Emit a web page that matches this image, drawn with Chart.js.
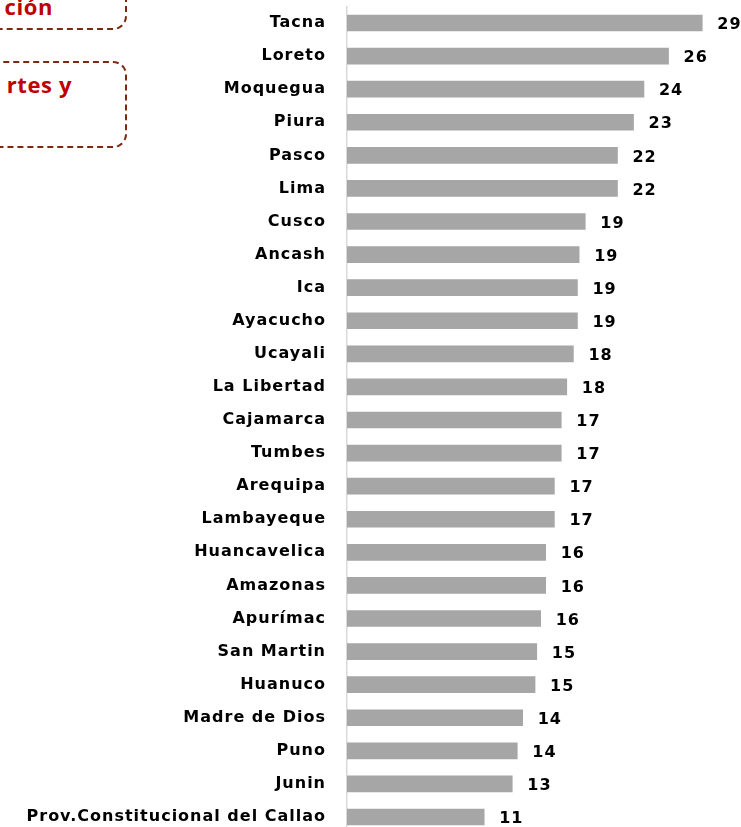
<!DOCTYPE html>
<html>
<head>
<meta charset="utf-8">
<script src="https://cdn.jsdelivr.net/npm/chart.js@4.4.1/dist/chart.umd.min.js"></script>
<style>
  html, body { margin: 0; padding: 0; background: #fff; overflow: hidden; }
  #wrap { position: relative; width: 741px; height: 827px; overflow: hidden; }
  #chartBox { position: absolute; left: 0; top: 0; width: 741px; height: 835px; }
  .note {
    position: absolute;
    border: 2.5px dashed #7b2a12;
    border-radius: 14px;
    color: #c00000;
    font-family: "Open Sans", sans-serif;
    font-weight: 700;
    font-size: 22px;
    letter-spacing: 0.6px;
    white-space: nowrap;
    box-sizing: border-box;
  }
</style>
</head>
<body>
<div id="wrap">
  <div class="note" style="left:-200px; top:-40px; width:327px; height:70px;">
    <span style="position:absolute; right:72px; top:29px;">ción</span>
  </div>
  <div class="note" style="left:-200px; top:61px; width:327px; height:87px;">
    <span style="position:absolute; right:53px; top:6px;">rtes y</span>
  </div>
  <div id="chartBox"><canvas id="chart"></canvas></div>
</div>
<script>
const regions = [
  "Tacna", "Loreto", "Moquegua", "Piura", "Pasco", "Lima", "Cusco", "Ancash",
  "Ica", "Ayacucho", "Ucayali", "La Libertad", "Cajamarca", "Tumbes", "Arequipa",
  "Lambayeque", "Huancavelica", "Amazonas", "Apurímac", "San Martin", "Huanuco",
  "Madre de Dios", "Puno", "Junin", "Prov.Constitucional del Callao"
];
const rates = [
  29.0, 26.25, 24.24, 23.39, 22.08, 22.08, 19.45, 18.95,
  18.81, 18.81, 18.48, 17.94, 17.49, 17.49, 16.93,
  16.93, 16.22, 16.22, 15.81, 15.49, 15.35,
  14.34, 13.9, 13.49, 11.2
];
const xMax = 32;

const valueLabels = {
  id: "valueLabels",
  afterDatasetsDraw(chart) {
    const ctx = chart.ctx;
    const meta = chart.getDatasetMeta(0);
    ctx.save();
    ctx.font = "bold 16px 'DejaVu Sans'";
    ctx.fillStyle = "#000";
    ctx.textAlign = "left";
    ctx.textBaseline = "middle";
    meta.data.forEach((bar, i) => {
      ctx.fillText(String(Math.round(rates[i])), bar.x + 15, bar.y + 2);
    });
    ctx.restore();
  }
};

const spacing = {
  id: "spacing",
  beforeDraw(chart) {
    chart.ctx.letterSpacing = "1px";
  }
};

new Chart(document.getElementById("chart"), {
  type: "bar",
  data: {
    labels: regions,
    datasets: [{
      data: rates,
      backgroundColor: "#a6a6a6",
      borderWidth: 0,
      barThickness: 16
    }]
  },
  options: {
    indexAxis: "y",
    responsive: true,
    maintainAspectRatio: false,
    animation: false,
    layout: { padding: { top: 6.5, bottom: 1.5, right: 2, left: 0 } },
    plugins: {
      legend: { display: false },
      tooltip: { enabled: false }
    },
    scales: {
      x: {
        display: false,
        min: 0,
        max: xMax
      },
      y: {
        afterFit(scale) {
          scale.width = 347;
          scale.paddingTop = 0;
          scale.paddingBottom = 0;
        },
        grid: { display: false, drawTicks: false },
        border: { display: true, color: "#d9d9d9", width: 1.5 },
        ticks: {
          padding: 21,
          color: "#000",
          font: { family: "'DejaVu Sans'", weight: "bold", size: 16 },
          autoSkip: false
        }
      }
    }
  },
  plugins: [spacing, valueLabels]
});
</script>
</body>
</html>
